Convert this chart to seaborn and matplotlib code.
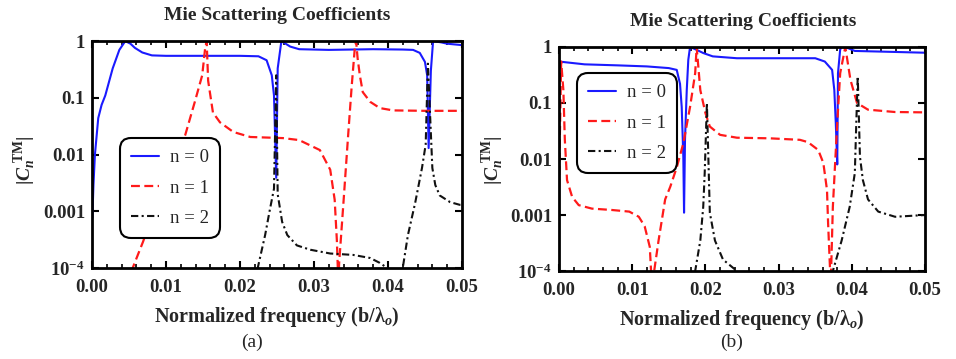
import matplotlib
matplotlib.use('Agg')
import numpy as np
import pandas as pd
import matplotlib.pyplot as plt
import seaborn as sns
from matplotlib.ticker import FixedLocator, FixedFormatter, MultipleLocator, NullLocator

# ---------------- data ----------------
# Panel (a)
a_f0 = [0.00005, 0.0002, 0.0004, 0.00085, 0.0013, 0.0018, 0.0028, 0.0037, 0.0045, 0.0052,
        0.0058, 0.0068, 0.0081, 0.0100, 0.0150, 0.0200, 0.0225, 0.0236, 0.0243, 0.0246,
        0.0249, 0.0251, 0.0256, 0.0268, 0.0280, 0.0320, 0.0380, 0.0420, 0.0434, 0.0443,
        0.0450, 0.0453, 0.0455, 0.0458, 0.0461, 0.0472, 0.0480, 0.0500]
a_c0 = [0.00076, 0.0029, 0.010, 0.044, 0.075, 0.11, 0.33, 0.70, 1.00, 0.90,
        0.76, 0.63, 0.56, 0.55, 0.55, 0.55, 0.54, 0.46, 0.25, 0.11,
        0.0039, 0.33, 1.00, 0.80, 0.72, 0.70, 0.72, 0.71, 0.70, 0.62,
        0.43, 0.25, 0.013, 0.30, 1.00, 0.95, 0.90, 0.85]

a_f1 = [0.0050, 0.0055, 0.0069, 0.0088, 0.0105, 0.0126, 0.0139, 0.0149, 0.0153, 0.0155,
        0.0157, 0.01635, 0.0173, 0.0191, 0.0214, 0.0258, 0.0280, 0.0308, 0.0322, 0.0328,
        0.0331, 0.0333, 0.0334, 0.0340, 0.0346, 0.0351, 0.0355, 0.0357, 0.0359, 0.0362,
        0.0366, 0.0376, 0.0389, 0.0407, 0.0450, 0.0500]
a_c1 = [5e-5, 1e-4, 2.9e-4, 1.45e-3, 5.8e-3, 0.022, 0.085, 0.25, 0.76, 1.00,
        0.20, 0.055, 0.037, 0.025, 0.0204, 0.0195, 0.018, 0.012, 0.0054, 0.0016,
        3e-4, 5e-5, 1.2e-4, 1.5e-3, 0.020, 0.16, 0.70, 1.00, 0.50, 0.25,
        0.126, 0.085, 0.066, 0.060, 0.059, 0.059]

a_f2 = [0.0220, 0.0224, 0.0234, 0.0240, 0.0246, 0.0249, 0.0251, 0.0257, 0.0264, 0.0277,
        0.0295, 0.0322, 0.0353, 0.0376, 0.0389, 0.0399, 0.0403, 0.0418, 0.0420, 0.0427,
        0.0437, 0.0446, 0.0451, 0.0454, 0.0460, 0.0464, 0.0470, 0.0484, 0.0497, 0.0500]
a_c2 = [5e-5, 1e-4, 3.8e-4, 1e-3, 2.5e-3, 0.25, 2e-3, 6.5e-4, 3.8e-4, 2.5e-4,
        2.1e-4, 1.8e-4, 1.7e-4, 1.5e-4, 1.23e-4, 1e-4, 5e-5, 5e-5, 1e-4, 3.8e-4,
        1.45e-3, 5.8e-3, 0.015, 0.40, 5.8e-3, 2.9e-3, 1.9e-3, 1.45e-3, 1.3e-3, 1.3e-3]

# Panel (b)
b_f0 = [0.0000, 0.0035, 0.0080, 0.0120, 0.0150, 0.01608, 0.01653, 0.01676, 0.01698, 0.01708,
        0.01721, 0.01745, 0.01766, 0.0179, 0.0188, 0.0197, 0.0210, 0.0243, 0.0329, 0.0350,
        0.0363, 0.0373, 0.0376, 0.0378, 0.0380, 0.0381, 0.0384, 0.0386, 0.0395, 0.0404,
        0.0436, 0.0500]
b_c0 = [0.55, 0.49, 0.47, 0.45, 0.42, 0.39, 0.22, 0.085, 0.011, 0.0011,
        0.022, 0.17, 0.59, 1.00, 0.89, 0.78, 0.68, 0.63, 0.63, 0.63,
        0.55, 0.39, 0.17, 0.044, 0.008, 0.34, 0.90, 1.00, 0.95, 0.85,
        0.83, 0.79]

b_f1 = [0.0000, 0.0003, 0.0006, 0.0008, 0.0011, 0.0018, 0.0027, 0.0045, 0.0072, 0.0096,
        0.0109, 0.0117, 0.0124, 0.0127, 0.0130, 0.0136, 0.0145, 0.0152, 0.0161, 0.0170,
        0.0179, 0.0186, 0.0188, 0.0193, 0.0200, 0.0206, 0.0220, 0.0243, 0.0288, 0.0329,
        0.0340, 0.0354, 0.0361, 0.0366, 0.03675, 0.0370, 0.0371, 0.0374, 0.0380, 0.0384,
        0.0391, 0.0398, 0.0407, 0.0422, 0.0459, 0.0500]
b_c1 = [0.003, 0.55, 0.17, 0.022, 0.0042, 0.0021, 0.0015, 0.0013, 0.00123, 0.00115,
        0.00093, 0.00063, 0.00027, 5e-5, 1e-4, 3.5e-4, 1.9e-3, 3.2e-3, 7.2e-3, 0.0195,
        0.085, 0.34, 1.00, 0.17, 0.066, 0.038, 0.027, 0.024, 0.0234, 0.022,
        0.020, 0.0145, 0.0085, 0.0028, 7.2e-4, 1.2e-4, 5e-5, 1.4e-3, 0.044, 0.34,
        1.00, 0.26, 0.10, 0.076, 0.069, 0.068]

b_f2 = [0.0180, 0.0186, 0.0193, 0.0197, 0.0199, 0.0202, 0.0206, 0.0213, 0.0224, 0.0243,
        0.0250, 0.0370, 0.0374, 0.0386, 0.0397, 0.0404, 0.0406, 0.0408, 0.0411, 0.0415,
        0.0422, 0.0436, 0.0459, 0.0500]
b_c2 = [5e-5, 1e-4, 3.5e-4, 1.4e-3, 5.6e-3, 0.10, 1.1e-3, 3.5e-4, 1.6e-4, 1e-4,
        5e-5, 5e-5, 1e-4, 3.5e-4, 1.4e-3, 5.6e-3, 0.044, 0.30, 0.011, 4.2e-3,
        1.9e-3, 1.15e-3, 9.3e-4, 1.0e-3]

x_ticks = [0.0, 0.01, 0.02, 0.03, 0.04, 0.05]
x_ticklabels = ['0.00', '0.01', '0.02', '0.03', '0.04', '0.05']
y_ticks = [1e-4, 1e-3, 1e-2, 1e-1, 1]
y_ticklabels = [r'$10^{-4}$', '0.001', '0.01', '0.1', '1']
series_labels = ['n = 0', 'n = 1', 'n = 2']

# ---------------- style ----------------
sns.set_theme(style='ticks')
plt.rcParams['font.family'] = ['Liberation Serif', 'DejaVu Serif']
plt.rcParams['mathtext.fontset'] = 'custom'
plt.rcParams['mathtext.rm'] = 'Liberation Serif:bold'
plt.rcParams['mathtext.it'] = 'Liberation Serif:italic:bold'
plt.rcParams['mathtext.bf'] = 'Liberation Serif:bold'

BLUE = '#1a1aff'
RED = '#ff1a1a'
BLACK = '#111111'

fig = plt.figure(figsize=(9.56, 3.59), dpi=100)
ax1 = fig.add_axes([0.0962, 0.2535, 0.387, 0.632])
ax2 = fig.add_axes([0.5847, 0.2451, 0.383, 0.624])

panels = [
    (ax1, (a_f0, a_c0), (a_f1, a_c1), (a_f2, a_c2), (0.076, 0.573), (-0.181, 0.476), -0.216),
    (ax2, (b_f0, b_c0), (b_f1, b_c1), (b_f2, b_c2), (0.049, 0.884), (-0.18, 0.495), -0.219),
]

for ax, s0, s1, s2, leg_anchor, ylab_xy, xlab_y in panels:
    sns.lineplot(x=s0[0], y=s0[1], ax=ax, color=BLUE, lw=1.5, label=series_labels[0],
                 estimator=None, sort=False)
    sns.lineplot(x=s1[0], y=s1[1], ax=ax, color=RED, lw=1.6, linestyle=(0, (4, 2)),
                 label=series_labels[1], estimator=None, sort=False)
    sns.lineplot(x=s2[0], y=s2[1], ax=ax, color=BLACK, lw=1.5,
                 linestyle=(0, (3.5, 1.6, 1.0, 1.6)), label=series_labels[2],
                 estimator=None, sort=False)
    ax.set_yscale('log')
    ax.set_xlim(0, 0.05)
    ax.set_ylim(1e-4, 1)
    ax.xaxis.set_major_locator(FixedLocator(x_ticks))
    ax.xaxis.set_major_formatter(FixedFormatter(x_ticklabels))
    ax.xaxis.set_minor_locator(MultipleLocator(0.002))
    ax.yaxis.set_major_locator(FixedLocator(y_ticks))
    ax.yaxis.set_major_formatter(FixedFormatter(y_ticklabels))
    ax.yaxis.set_minor_locator(NullLocator())
    ax.tick_params(which='major', direction='in', top=True, right=True, length=5,
                   width=1.5, labelsize=13.5, color='black')
    ax.tick_params(axis='x', which='major', pad=8)
    ax.tick_params(axis='y', which='major', pad=5)
    ax.tick_params(which='minor', direction='in', top=True, right=True, length=3,
                   width=1.2, color='black')
    for lab in ax.get_xticklabels() + ax.get_yticklabels():
        lab.set_fontweight('bold')
    for sp in ax.spines.values():
        sp.set_linewidth(2)
        sp.set_color('black')
    ax.set_xlabel(r'Normalized frequency (b/λ$_{o}$)', fontsize=14.5, fontweight='bold')
    ax.xaxis.label.set_va('center')
    ax.xaxis.set_label_coords(0.5, xlab_y)
    ax.set_ylabel(r'$|C_{n}^{\ \mathrm{TM}}|$', fontsize=14)
    ax.yaxis.label.set_va('center')
    ax.yaxis.set_label_coords(*ylab_xy)
    leg = ax.legend(loc='upper left', bbox_to_anchor=leg_anchor, borderaxespad=0,
                    prop={'family': 'Liberation Serif', 'size': 13.5},
                    handlelength=1.5, handletextpad=0.55, labelspacing=0.7,
                    borderpad=0.6, frameon=True, fancybox=True, framealpha=1,
                    edgecolor='black')
    leg.get_frame().set_linewidth(1.5)
    leg.get_frame().set_boxstyle('round,pad=0,rounding_size=0.6')

fig.text(277 / 956, 1 - 16 / 359, 'Mie Scattering Coefficients', ha='center', va='center',
         fontsize=14, fontweight='bold')
fig.text(743 / 956, 1 - 22 / 359, 'Mie Scattering Coefficients', ha='center', va='center',
         fontsize=14, fontweight='bold')
fig.text(252 / 956, 1 - 342 / 359, '(a)', ha='center', va='center', fontsize=14)
fig.text(732 / 956, 1 - 342 / 359, '(b)', ha='center', va='center', fontsize=14)

fig.savefig('out.png', dpi=100, facecolor='white')
